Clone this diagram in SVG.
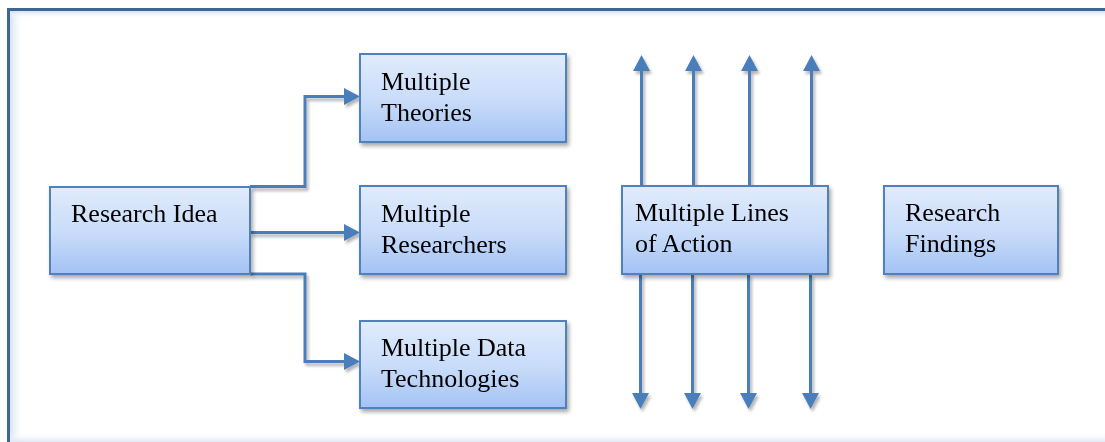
<svg xmlns="http://www.w3.org/2000/svg" width="1105" height="442" viewBox="0 0 1105 442">
  <defs>
    <linearGradient id="boxFill" x1="0" y1="0" x2="0" y2="1">
      <stop offset="0" stop-color="#e1ebfc"/>
      <stop offset="0.55" stop-color="#c7dbf9"/>
      <stop offset="1" stop-color="#a3c2f4"/>
    </linearGradient>
    <linearGradient id="glowL" x1="0" y1="0" x2="1" y2="0">
      <stop offset="0" stop-color="#d6e2f1"/>
      <stop offset="1" stop-color="#ffffff" stop-opacity="0"/>
    </linearGradient>
    <linearGradient id="glowT" x1="0" y1="0" x2="0" y2="1">
      <stop offset="0" stop-color="#d6e2f1"/>
      <stop offset="1" stop-color="#ffffff" stop-opacity="0"/>
    </linearGradient>
    <linearGradient id="glowB" x1="0" y1="1" x2="0" y2="0">
      <stop offset="0" stop-color="#dfe7f3"/>
      <stop offset="1" stop-color="#ffffff" stop-opacity="0"/>
    </linearGradient>
    <filter id="shadow" x="-10%" y="-10%" width="130%" height="140%">
      <feGaussianBlur in="SourceAlpha" stdDeviation="2"/>
      <feOffset dx="2" dy="3" result="b"/>
      <feComponentTransfer><feFuncA type="linear" slope="0.35"/></feComponentTransfer>
      <feMerge><feMergeNode/><feMergeNode in="SourceGraphic"/></feMerge>
    </filter>
    <filter id="lineShadow" x="-10%" y="-10%" width="120%" height="130%">
      <feGaussianBlur in="SourceAlpha" stdDeviation="1.5"/>
      <feOffset dx="1.5" dy="2.5" result="b"/>
      <feComponentTransfer><feFuncA type="linear" slope="0.3"/></feComponentTransfer>
      <feMerge><feMergeNode/><feMergeNode in="SourceGraphic"/></feMerge>
    </filter>
    <!-- arrowheads pointing right / up / down, tip at the origin -->
    <path id="headR" d="M0,0 L-16,-8.5 L-16,8.5 Z"/>
    <path id="headU" d="M0,0 L-8.5,16 L8.5,16 Z"/>
    <path id="headD" d="M0,0 L-8.5,-16 L8.5,-16 Z"/>
  </defs>
  <style>
    .box { fill: url(#boxFill); stroke: #4f81bd; stroke-width: 2; }
    .label { font-family: "Liberation Serif", "Times New Roman", serif; font-size: 26px; fill: #000; }
    .conn { fill: none; stroke: #4a7ebb; stroke-width: 3; }
    .head { fill: #4a7ebb; }
  </style>

  <rect width="1105" height="442" fill="#ffffff"/>

  <!-- outer frame with soft inner glow -->
  <g id="frame">
    <rect x="10" y="11" width="14" height="440" fill="url(#glowL)"/>
    <rect x="10" y="11" width="1100" height="8" fill="url(#glowT)"/>
    <rect x="10" y="432" width="1100" height="10" fill="url(#glowB)"/>
    <rect x="8.5" y="9.5" width="1110" height="445" fill="none" stroke="#3f6592" stroke-width="3"/>
  </g>

  <!-- connectors -->
  <g id="connectors" filter="url(#lineShadow)">
    <path class="conn" d="M250,186.5 H305 V96.5 H346"/>
    <path class="conn" d="M250,232.5 H346"/>
    <path class="conn" d="M250,274 H305 V361.5 H346"/>
    <use href="#headR" class="head" x="360" y="96.5"/>
    <use href="#headR" class="head" x="360" y="232.5"/>
    <use href="#headR" class="head" x="360" y="361.5"/>

    <path class="conn" d="M641.5,186 V68"/>
    <path class="conn" d="M693.5,186 V68"/>
    <path class="conn" d="M749.5,186 V68"/>
    <path class="conn" d="M811.5,186 V68"/>
    <use href="#headU" class="head" x="641.5" y="55"/>
    <use href="#headU" class="head" x="693.5" y="55"/>
    <use href="#headU" class="head" x="749.5" y="55"/>
    <use href="#headU" class="head" x="811.5" y="55"/>

    <path class="conn" d="M640.5,274 V395"/>
    <path class="conn" d="M692.5,274 V395"/>
    <path class="conn" d="M748.5,274 V395"/>
    <path class="conn" d="M810.5,274 V395"/>
    <use href="#headD" class="head" x="640.5" y="409"/>
    <use href="#headD" class="head" x="692.5" y="409"/>
    <use href="#headD" class="head" x="748.5" y="409"/>
    <use href="#headD" class="head" x="810.5" y="409"/>
  </g>

  <g id="research-idea" filter="url(#shadow)">
    <rect class="box" x="50" y="187" width="200" height="87"/>
    <text class="label" x="71" y="222">Research Idea</text>
  </g>

  <g id="multiple-theories" filter="url(#shadow)">
    <rect class="box" x="360" y="54" width="206" height="88"/>
    <text class="label" x="381" y="90">Multiple</text>
    <text class="label" x="381" y="121">Theories</text>
  </g>

  <g id="multiple-researchers" filter="url(#shadow)">
    <rect class="box" x="360" y="186" width="206" height="88"/>
    <text class="label" x="381" y="222">Multiple</text>
    <text class="label" x="381" y="253">Researchers</text>
  </g>

  <g id="multiple-data-technologies" filter="url(#shadow)">
    <rect class="box" x="360" y="321" width="206" height="87"/>
    <text class="label" x="381" y="356">Multiple Data</text>
    <text class="label" x="381" y="387">Technologies</text>
  </g>

  <g id="multiple-lines-of-action" filter="url(#shadow)">
    <rect class="box" x="622" y="186" width="206" height="88"/>
    <text class="label" x="635" y="221">Multiple Lines</text>
    <text class="label" x="635" y="252">of Action</text>
  </g>

  <g id="research-findings" filter="url(#shadow)">
    <rect class="box" x="884" y="186" width="174" height="88"/>
    <text class="label" x="905" y="221">Research</text>
    <text class="label" x="905" y="252">Findings</text>
  </g>
</svg>
